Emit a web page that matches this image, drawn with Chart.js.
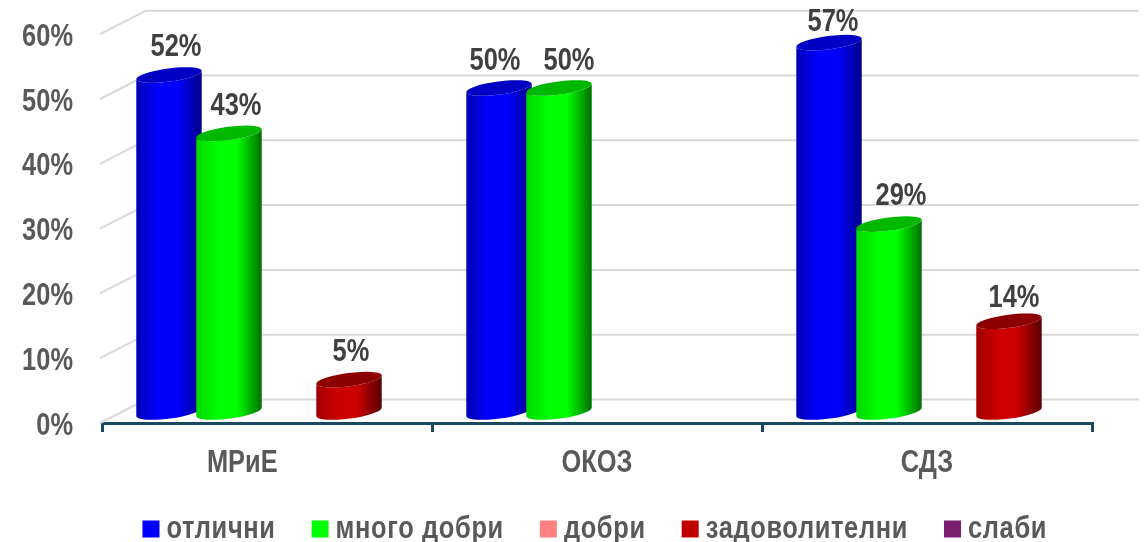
<!DOCTYPE html>
<html>
<head>
<meta charset="utf-8">
<script src="https://cdn.jsdelivr.net/npm/chart.js@4"></script>
<style>
  html, body { margin: 0; padding: 0; background: #fff; overflow: hidden; }
  canvas { display: block; }
</style>
</head>
<body>
<canvas id="chart" width="1145" height="542"></canvas>
<script>
const categories = ['МРиЕ       ', 'ОКОЗ', 'СДЗ'];
const seriesNames = ['отлични', 'много добри', 'добри', 'задоволителни', 'слаби'];
const otlichni = [52, 50, 57];
const mnogoDobri = [43, 50, 29];
const dobri = [null, null, null];
const zadovolitelni = [5, null, 14];
const slabi = [null, null, null];
const yTicks = [0, 10, 20, 30, 40, 50, 60];

const seriesValues = [otlichni, mnogoDobri, dobri, zadovolitelni, slabi];

const legendColors = ['#0000ff', '#00ff00', '#ff8080', '#c00000', '#7b1f70'];
// left edge, light part, right edge, top cap
const shades = [
  ['#0000b4', '#0000ff', '#000088', '#0000c4'],
  ['#00d800', '#00ff00', '#006e00', '#00b800'],
  ['#d06060', '#ff8080', '#804040', '#c06060'],
  ['#a00000', '#cc0000', '#580000', '#8c0000'],
  ['#5a1552', '#7b1f70', '#3d0f38', '#5a1552']
];
// hand placed data labels in the original: [dx, dy] per series and category
const labelShift = [
  [[7, 0], [-4, 1], [4, 7]],
  [[7, 1], [10, 1], [12, 0]],
  [[0, 0], [0, 0], [0, 0]],
  [[2, 0], [0, 0], [5, 5]],
  [[0, 0], [0, 0], [0, 0]]
];

const FONT = '"Liberation Sans", sans-serif';
const squeeze = 0.82; // the original type is a narrow bold
const depthX = 22, depthY = -11;

function narrowText(ctx) {
  const fill = ctx.fillText, measure = ctx.measureText;
  ctx.fillText = function (t, x, y) {
    this.save();
    this.translate(x, y);
    this.scale(squeeze, 1);
    fill.call(this, t, 0, 0);
    this.restore();
  };
  ctx.measureText = function (t) {
    return { width: measure.call(this, t).width * squeeze };
  };
}

function drawWall(chart) {
  const ctx = chart.ctx, y = chart.scales.y, a = chart.chartArea;
  ctx.save();
  ctx.strokeStyle = '#d9d9d9';
  ctx.lineWidth = 2;
  yTicks.forEach(v => {
    const py = y.getPixelForValue(v);
    ctx.beginPath();
    ctx.moveTo(a.left - 2, py);
    ctx.lineTo(a.left + 44, py - 23.5);
    ctx.lineTo(a.right + 47, py - 23.5);
    ctx.stroke();
  });
  ctx.restore();
}

function drawCylinder(ctx, bar, shade) {
  const rx = bar.width / 2, ry = 6.6, tilt = -7.5 * Math.PI / 180;
  const dx = rx * Math.cos(tilt), dy = rx * Math.sin(tilt);
  const g = ctx.createLinearGradient(bar.x - rx, 0, bar.x + rx, 0);
  g.addColorStop(0, shade[0]);
  g.addColorStop(0.35, shade[1]);
  g.addColorStop(0.62, shade[1]);
  g.addColorStop(1, shade[2]);
  ctx.fillStyle = g;
  ctx.beginPath();
  ctx.moveTo(bar.x - dx, bar.y - dy);
  ctx.lineTo(bar.x - dx, bar.base - dy);
  ctx.ellipse(bar.x, bar.base, rx, ry, tilt, Math.PI, 0, true);
  ctx.lineTo(bar.x + dx, bar.y + dy);
  ctx.ellipse(bar.x, bar.y, rx, ry, tilt, 0, Math.PI, false);
  ctx.closePath();
  ctx.fill();
  ctx.fillStyle = shade[3];
  ctx.beginPath();
  ctx.ellipse(bar.x, bar.y, rx, ry, tilt, 0, Math.PI * 2);
  ctx.fill();
}

const cylinders = {
  id: 'cylinders',
  beforeInit(chart) {
    narrowText(chart.ctx);
  },
  afterInit(chart) {
    // the legend has wide letter spacing and a tighter row than its item gap gives
    const lg = chart.legend, c = chart.ctx, fit = lg.fit, draw = lg.draw;
    lg.fit = function () {
      c.save();
      c.letterSpacing = '0.8px';
      fit.call(this);
      c.restore();
      this.height = 50;
    };
    lg.draw = function () {
      const top = this.top, left = this.left, right = this.right;
      c.save();
      c.letterSpacing = '0.8px';
      this.top = top - 23;
      this.left = left + 53;
      this.right = right + 53;
      draw.call(this);
      this.top = top;
      this.left = left;
      this.right = right;
      c.restore();
    };
  },
  beforeDatasetsDraw(chart) {
    const ctx = chart.ctx;
    drawWall(chart);
    ctx.save();
    ctx.translate(depthX, depthY);
    seriesValues.forEach((vals, i) => {
      chart.getDatasetMeta(i).data.forEach((bar, k) => {
        if (vals[k] != null) drawCylinder(ctx, bar, shades[i]);
      });
    });
    ctx.font = 'bold 31px ' + FONT;
    ctx.fillStyle = '#404040';
    ctx.textAlign = 'center';
    ctx.textBaseline = 'middle';
    seriesValues.forEach((vals, i) => {
      chart.getDatasetMeta(i).data.forEach((bar, k) => {
        if (vals[k] == null) return;
        const s = labelShift[i][k];
        ctx.fillText(vals[k] + '%', bar.x + s[0], bar.y - 27.5 + s[1]);
      });
    });
    ctx.restore();
    return false;
  }
};

new Chart(document.getElementById('chart'), {
  type: 'bar',
  data: {
    labels: categories,
    datasets: seriesNames.map((name, i) => ({
      label: name,
      data: seriesValues[i],
      backgroundColor: legendColors[i],
      barPercentage: 1.1,
      categoryPercentage: 0.909
    }))
  },
  plugins: [cylinders],
  options: {
    responsive: false,
    animation: false,
    layout: { padding: { top: 34.2, right: 53, left: 0, bottom: 0 } },
    plugins: {
      tooltip: { enabled: false },
      legend: {
        position: 'bottom',
        labels: {
          usePointStyle: true,
          pointStyle: 'rect',
          boxHeight: 17,
          boxWidth: 0.01,
          padding: 44.5,
          color: '#595959',
          font: { family: FONT, size: 31, weight: 'bold' }
        }
      }
    },
    scales: {
      x: {
        afterFit(s) { s.height = 69; },
        border: { color: '#17495f', width: 3 },
        grid: { drawOnChartArea: false, color: '#17495f', lineWidth: 3, tickLength: 9 },
        ticks: {
          color: '#595959',
          padding: 13,
          maxRotation: 0,
          font: { family: FONT, size: 31, weight: 'bold' }
        }
      },
      y: {
        min: 0,
        max: 60,
        afterFit(s) { s.width = 102; s.paddingTop = 0; s.paddingBottom = 0; },
        afterBuildTicks(s) { s.ticks = yTicks.map(v => ({ value: v })); },
        border: { display: false },
        grid: { display: false },
        ticks: {
          color: '#595959',
          padding: 21,
          labelOffset: 3,
          callback: v => v + '%',
          font: { family: FONT, size: 31, weight: 'bold' }
        }
      }
    }
  }
});
</script>
</body>
</html>
